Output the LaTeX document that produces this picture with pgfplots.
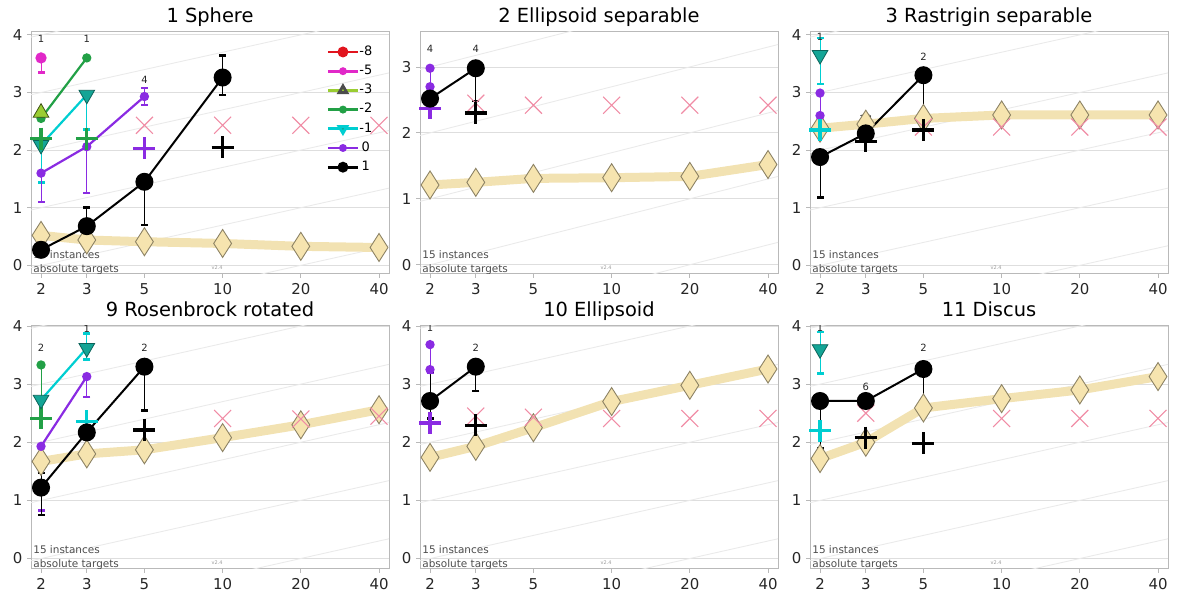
\documentclass[border=0pt]{standalone}
\usepackage{fontspec}
\setmainfont{DejaVu Sans}
\usepackage{pgfplots}
\pgfplotsset{compat=1.18}

\definecolor{cB}{RGB}{138,43,226}
\definecolor{cC}{RGB}{0,206,209}
\definecolor{cCf}{RGB}{20,165,150}
\definecolor{cG}{RGB}{34,160,70}
\definecolor{cY}{RGB}{154,205,50}
\definecolor{cM}{RGB}{225,40,200}
\definecolor{cR}{RGB}{225,20,30}
\definecolor{wband}{RGB}{242,226,178}
\definecolor{wfill}{RGB}{246,228,175}
\definecolor{wedge}{RGB}{140,130,100}
\definecolor{pinkx}{RGB}{240,140,165}
\definecolor{frameg}{RGB}{185,185,185}
\definecolor{gridg}{RGB}{222,222,222}
\definecolor{diagg}{RGB}{234,234,234}

\newcommand{\fs}[1]{\fontsize{#1}{#1}\selectfont}

\tikzset{lab/.style={font=\fs{10}, text=black!85, inner sep=0pt}}

\pgfplotsset{
  every axis/.append style={
    scale only axis, width=358bp,
    xmin=1.83, xmax=43.7,
    minor xtick={}, minor ytick={},
    ymajorgrids, grid style={gridg, line width=0.8bp},
    axis line style={frameg, line width=1bp},
    tick style={frameg, line width=0.8bp},
    tick align=outside, tick pos=left, major tick length=4bp,
    tick label style={font=\fs{15}, text=black!85},
    xticklabel style={yshift=-2bp},
    yticklabel style={xshift=-1bp},
    title style={font=\fs{19.5}, at={(0.5,1)}, anchor=base, inner sep=0pt, yshift=4bp},
  },
  diag/.style={diagg, line width=0.9bp, forget plot},
  band/.style={wband, line width=9bp, forget plot, mark=diamond*, mark size=14bp,
    mark options={xscale=0.85, fill=wfill, draw=wedge, line width=0.9bp}},
  px/.style={only marks, forget plot, mark=x, mark size=12bp, pinkx, line width=1.1bp},
  pl/.style={only marks, forget plot, mark=+, mark size=11bp, line width=3.2bp, #1},
  sK/.style={forget plot, black, line width=2bp, mark=*, mark size=8bp, mark options={solid, fill=black}},
  sB/.style={forget plot, cB, line width=2.2bp, mark=*, mark size=3.5bp, mark options={fill=cB}},
  sC/.style={forget plot, cC, line width=2.2bp, mark=triangle*, mark size=9bp, mark options={rotate=180, fill=cCf, draw=cCf!60!black, line width=0.8bp}},
  sG/.style={forget plot, cG, line width=2.2bp, mark=*, mark size=3.5bp, mark options={fill=cG}},
  sY/.style={forget plot, cY, line width=2.2bp, mark=triangle*, mark size=9bp, mark options={fill=cY, draw=cY!40!black, line width=0.8bp}},
  sM/.style={forget plot, cM, line width=2.2bp, mark=*, mark size=4.5bp, mark options={fill=cM}},
  eb/.style={only marks, mark=none, forget plot, #1,
    error bars/y dir=both, error bars/y explicit,
    error bars/error bar style={line width=0.9bp, #1},
    error bars/error mark options={rotate=90, #1, line width=2.5bp, mark size=3.5bp}},
}

\newcommand{\diaglines}{%
  \addplot[diag] coordinates {(1.83,-2.039) (43.7,-0.660)};
  \addplot[diag] coordinates {(1.83,-1.039) (43.7,0.340)};
  \addplot[diag] coordinates {(1.83,-0.039) (43.7,1.340)};
  \addplot[diag] coordinates {(1.83,0.961) (43.7,2.340)};
  \addplot[diag] coordinates {(1.83,1.961) (43.7,3.340)};
  \addplot[diag] coordinates {(1.83,2.961) (43.7,4.340)};
  \addplot[diag] coordinates {(1.83,3.961) (43.7,5.340)};
}
\newcommand{\foot}{%
  \node[anchor=base west, font=\fs{10.5}, text=black!70, inner sep=0pt] at (rel axis cs:0.006,0.062) {15 instances};
  \node[anchor=base west, font=\fs{10.5}, text=black!70, inner sep=0pt] at (rel axis cs:0.006,0.008) {absolute targets};
  \node[anchor=base, font=\fs{5}, text=black!40, inner sep=0pt] at (rel axis cs:0.52,0.02) {v2.4};
}

\begin{document}
\begin{tikzpicture}
\path[use as bounding box] (0,0) rectangle (1177bp,592bp);

% ---------------- 1 Sphere ----------------
\begin{axis}[xmode=log, xtick={2,3,5,10,20,40}, xticklabels={2,3,5,10,20,40},
  height=242bp, ymin=-0.15, ymax=4.05, ytick={0,1,2,3,4}, yticklabels={0,1,2,3,4},
  at={(31bp,318bp)}, anchor=south west, title={1 Sphere},
  legend style={at={(0.825,0.942)}, anchor=north west, draw=none, fill=none, inner sep=0pt,
    font=\fs{13}, row sep=7.7bp, nodes={inner sep=0pt, text height=9bp, text depth=2.5bp}},
  legend image code/.code={\draw[mark repeat=2, mark phase=2, #1] plot coordinates {(0bp,0bp) (15bp,0bp) (30bp,0bp)};}]
\diaglines
\foot
\addplot[band] coordinates {(2,0.52) (3,0.44) (5,0.41) (10,0.38) (20,0.33) (40,0.31)};
\addplot[px] coordinates {(5,2.43) (10,2.43) (20,2.43) (40,2.43)};
\addplot[eb=cM] coordinates {(2,3.6) += (0,0.05) -= (0,0.25)};
\addplot[sM, only marks] coordinates {(2,3.6)};
\addplot[eb=cC] coordinates {(2,2.09) += (0,0.1) -= (0,0.65)};
\addplot[eb=cC] coordinates {(3,2.96) += (0,0.05) -= (0,0.6)};
\addplot[eb=cB] coordinates {(2,1.6) += (0,0.0) -= (0,0.5)};
\addplot[eb=cB] coordinates {(3,2.06) += (0,0.0) -= (0,0.8)};
\addplot[eb=cB] coordinates {(5,2.93) += (0,0.15) -= (0,0.15)};
\addplot[sG] coordinates {(2,2.55) (3,3.6)};
\addplot[sY] coordinates {(2,2.65)};
\addplot[sC] coordinates {(2,2.09) (3,2.96)};
\addplot[sB] coordinates {(2,1.6) (3,2.06) (5,2.93)};
\addplot[pl=cG] coordinates {(2,2.2) (3,2.2)};
\addplot[pl=cB] coordinates {(5,2.03)};
\addplot[pl=black] coordinates {(10,2.05)};
\addplot[eb=black] coordinates {(3,0.68) += (0,0.32) -= (0,0.33)};
\addplot[eb=black] coordinates {(5,1.45) += (0,0.0) -= (0,0.75)};
\addplot[eb=black] coordinates {(10,3.26) += (0,0.38) -= (0,0.3)};
\addplot[sK] coordinates {(2,0.27) (3,0.68) (5,1.45) (10,3.26)};
\node[lab] at (axis cs:2,3.93) {1};
\node[lab] at (axis cs:3,3.93) {1};
\node[lab] at (axis cs:5,3.22) {4};
\addlegendimage{cR, line width=2.8bp, mark=*, mark size=4bp}
\addlegendentry{-8}
\addlegendimage{cM, line width=2.8bp, mark=*, mark size=2.5bp}
\addlegendentry{-5}
\addlegendimage{cY, line width=2.8bp, mark=triangle*, mark size=4.5bp, mark options={fill=cY, draw=black!70}}
\addlegendentry{-3}
\addlegendimage{cG, line width=2.8bp, mark=*, mark size=2.5bp}
\addlegendentry{-2}
\addlegendimage{cC, line width=2.8bp, mark=triangle*, mark size=4.5bp, mark options={rotate=180, fill=cCf}}
\addlegendentry{-1}
\addlegendimage{cB, line width=2.8bp, mark=*, mark size=2.5bp}
\addlegendentry{0}
\addlegendimage{black, line width=2.8bp, mark=*, mark size=4bp}
\addlegendentry{1}
\end{axis}

% ---------------- 2 Ellipsoid separable ----------------
\begin{axis}[xmode=log, xtick={2,3,5,10,20,40}, xticklabels={2,3,5,10,20,40},
  height=242bp, ymin=-0.14, ymax=3.53, ytick={0,1,2,3}, yticklabels={0,1,2,3},
  at={(420bp,318bp)}, anchor=south west, title={2 Ellipsoid separable}]
\diaglines
\foot
\addplot[band] coordinates {(2,1.21) (3,1.25) (5,1.31) (10,1.32) (20,1.34) (40,1.52)};
\addplot[px] coordinates {(3,2.45) (5,2.42) (10,2.42) (20,2.42) (40,2.42)};
\addplot[eb=cB] coordinates {(2,2.7) += (0,0.28) -= (0,0.2)};
\addplot[sB, only marks] coordinates {(2,2.98) (2,2.7)};
\addplot[pl=cB] coordinates {(2,2.37)};
\addplot[eb=black] coordinates {(3,2.98) += (0,0.0) -= (0,0.5)};
\addplot[sK] coordinates {(2,2.52) (3,2.98)};
\addplot[pl=black] coordinates {(3,2.3)};
\node[lab] at (axis cs:2,3.28) {4};
\node[lab] at (axis cs:3,3.28) {4};
\end{axis}

% ---------------- 3 Rastrigin separable ----------------
\begin{axis}[xmode=log, xtick={2,3,5,10,20,40}, xticklabels={2,3,5,10,20,40},
  height=242bp, ymin=-0.15, ymax=4.05, ytick={0,1,2,3,4}, yticklabels={0,1,2,3,4},
  at={(810bp,318bp)}, anchor=south west, title={3 Rastrigin separable}]
\diaglines
\foot
\addplot[band] coordinates {(2,2.38) (3,2.45) (5,2.55) (10,2.61) (20,2.61) (40,2.61)};
\addplot[px] coordinates {(5,2.4) (10,2.4) (20,2.4) (40,2.4)};
\addplot[eb=cC] coordinates {(2,3.65) += (0,0.3) -= (0,0.5)};
\addplot[eb=cB] coordinates {(2,2.99) += (0,0.0) -= (0,0.4)};
\addplot[sB, only marks] coordinates {(2,2.99) (2,2.6)};
\addplot[sC] coordinates {(2,3.65)};
\addplot[pl=cC] coordinates {(2,2.35)};
\addplot[eb=black] coordinates {(2,1.88) += (0,0.0) -= (0,0.7)};
\addplot[eb=black] coordinates {(5,3.30) += (0,0.0) -= (0,0.6)};
\addplot[sK] coordinates {(2,1.88) (3,2.29) (5,3.30)};
\addplot[pl=black] coordinates {(3,2.15) (5,2.35)};
\node[lab] at (axis cs:2,3.96) {1};
\node[lab] at (axis cs:3,2.55) {12};
\node[lab] at (axis cs:5,3.62) {2};
\end{axis}

% ---------------- 9 Rosenbrock rotated ----------------
\begin{axis}[xmode=log, xtick={2,3,5,10,20,40}, xticklabels={2,3,5,10,20,40},
  height=243bp, ymin=-0.18, ymax=4.0, ytick={0,1,2,3,4}, yticklabels={0,1,2,3,4},
  at={(31bp,23bp)}, anchor=south west, title={9 Rosenbrock rotated}]
\diaglines
\foot
\addplot[band] coordinates {(2,1.67) (3,1.8) (5,1.87) (10,2.08) (20,2.3) (40,2.56)};
\addplot[px] coordinates {(10,2.41) (20,2.4) (40,2.45)};
\addplot[eb=cG] coordinates {(2,3.33) += (0,0.0) -= (0,0.6)};
\addplot[sG, only marks] coordinates {(2,3.33)};
\addplot[pl=cG] coordinates {(2,2.41)};
\addplot[eb=cC] coordinates {(3,3.62) += (0,0.25) -= (0,0.2)};
\addplot[sC] coordinates {(2,2.73) (3,3.62)};
\addplot[pl=cC] coordinates {(3,2.36)};
\addplot[eb=cB] coordinates {(3,3.13) += (0,0.0) -= (0,0.35)};
\addplot[eb=cB] coordinates {(2,1.93) += (0,0.0) -= (0,1.1)};
\addplot[sB] coordinates {(2,1.93) (3,3.13)};
\addplot[eb=black] coordinates {(2,1.22) += (0,0.25) -= (0,0.47)};
\addplot[eb=black] coordinates {(3,2.17) += (0,0.0) -= (0,0.45)};
\addplot[eb=black] coordinates {(5,3.30) += (0,0.0) -= (0,0.75)};
\addplot[sK] coordinates {(2,1.22) (3,2.17) (5,3.30)};
\addplot[pl=black] coordinates {(5,2.21)};
\node[lab] at (axis cs:2,3.62) {2};
\node[lab] at (axis cs:3,3.95) {1};
\node[lab] at (axis cs:5,3.62) {2};
\end{axis}

% ---------------- 10 Ellipsoid ----------------
\begin{axis}[xmode=log, xtick={2,3,5,10,20,40}, xticklabels={2,3,5,10,20,40},
  height=243bp, ymin=-0.18, ymax=4.0, ytick={0,1,2,3,4}, yticklabels={0,1,2,3,4},
  at={(420bp,23bp)}, anchor=south west, title={10 Ellipsoid}]
\diaglines
\foot
\addplot[band] coordinates {(2,1.74) (3,1.93) (5,2.25) (10,2.70) (20,2.98) (40,3.26)};
\addplot[px] coordinates {(3,2.45) (5,2.43) (10,2.41) (20,2.41) (40,2.41)};
\addplot[eb=cB] coordinates {(2,3.68) += (0,0.0) -= (0,0.48)};
\addplot[sB, only marks] coordinates {(2,3.68) (2,3.25)};
\addplot[pl=cB] coordinates {(2,2.33)};
\addplot[eb=black] coordinates {(2,2.71) += (0,0.5) -= (0,0.3)};
\addplot[eb=black] coordinates {(3,3.30) += (0,0.0) -= (0,0.42)};
\addplot[sK] coordinates {(2,2.71) (3,3.30)};
\addplot[pl=black] coordinates {(3,2.29)};
\node[lab] at (axis cs:2,3.96) {1};
\node[lab] at (axis cs:3,3.62) {2};
\end{axis}

% ---------------- 11 Discus ----------------
\begin{axis}[xmode=log, xtick={2,3,5,10,20,40}, xticklabels={2,3,5,10,20,40},
  height=243bp, ymin=-0.18, ymax=4.0, ytick={0,1,2,3,4}, yticklabels={0,1,2,3,4},
  at={(810bp,23bp)}, anchor=south west, title={11 Discus}]
\diaglines
\foot
\addplot[band] coordinates {(2,1.72) (3,2.0) (5,2.59) (10,2.75) (20,2.90) (40,3.13)};
\addplot[px] coordinates {(3,2.5) (10,2.41) (20,2.41) (40,2.41)};
\addplot[eb=cC] coordinates {(2,3.6) += (0,0.3) -= (0,0.42)};
\addplot[sC] coordinates {(2,3.6)};
\addplot[pl=cC] coordinates {(2,2.2)};
\addplot[eb=black] coordinates {(2,2.71) += (0,0.0) -= (0,0.82)};
\addplot[eb=black] coordinates {(5,3.26) += (0,0.0) -= (0,0.75)};
\addplot[sK] coordinates {(2,2.71) (3,2.71) (5,3.26)};
\addplot[pl=black] coordinates {(3,2.08) (5,1.98)};
\node[lab] at (axis cs:2,3.96) {1};
\node[lab] at (axis cs:3,2.95) {6};
\node[lab] at (axis cs:5,3.62) {2};
\end{axis}
\end{tikzpicture}
\end{document}
